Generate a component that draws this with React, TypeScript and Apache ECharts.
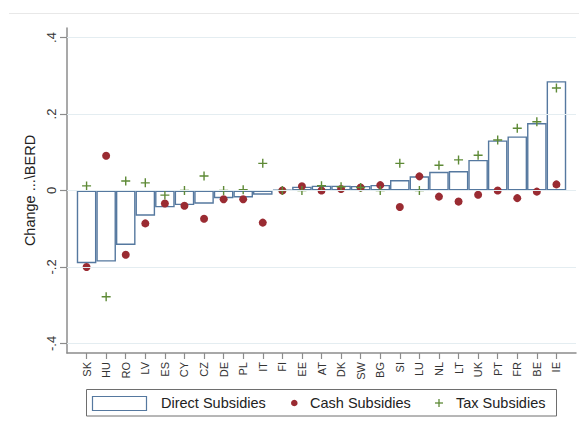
import React, { useEffect, useRef } from "react";
import * as echarts from "echarts";

// Countries ordered by the change in direct subsidies
const countries = [
  "SK", "HU", "RO", "LV", "ES", "CY", "CZ", "DE", "PL", "IT", "FI", "EE", "AT",
  "DK", "SW", "BG", "SI", "LU", "NL", "LT", "UK", "PT", "FR", "BE", "IE",
];

const directSubsidies = [
  -0.19, -0.186, -0.1425, -0.066, -0.044, -0.038, -0.0345, -0.02, -0.018, -0.011,
  0.002, 0.01, 0.0125, 0.0125, 0.012, 0.0145, 0.0275, 0.037, 0.049, 0.051, 0.08,
  0.131, 0.1415, 0.1765, 0.286,
];

const cashSubsidies = [
  -0.2, 0.091, -0.168, -0.086, -0.034, -0.04, -0.074, -0.023, -0.023, -0.084, 0,
  0.011, 0, 0.004, 0.008, 0.014, -0.043, 0.037, -0.016, -0.029, -0.011, 0, -0.02,
  -0.003, 0.016,
];

const taxSubsidies = [
  0.012, -0.278, 0.025, 0.02, -0.012, 0, 0.038, 0, 0.002, 0.071, 0, 0, 0.0125,
  0.01, 0.008, 0, 0.071, 0, 0.066, 0.08, 0.092, 0.132, 0.163, 0.18, 0.268,
];

const yTicks = [-0.4, -0.2, 0, 0.2, 0.4];

const FONT = "'Liberation Sans', Arial, Helvetica, sans-serif";
const BAR_LINE = "#55789f";
const CASH = "#9a2b32";
const TAX = "#5e8a36";
const AXIS = "#8c8c8c";
const GRID = "#e4edf1";

// Plus-shaped marker for tax subsidies
const PLUS = "path://M3.8,0H5.2V9H3.8Z M0,3.8H9V5.2H0Z";

// Stata-style tick labels: .4, .2, 0, -.2, -.4
const fmtTick = (v: number) => {
  if (Math.abs(v) < 1e-9) return "0";
  const s = Math.abs(v).toFixed(1).replace(/^0/, "");
  return (v < 0 ? "-" : "") + s;
};

// Empty slots at both ends leave room between the axes and the first/last bar
const pad = <T,>(arr: T[]) => [null, ...arr, null];

export default function App() {
  const ref = useRef<HTMLDivElement>(null);

  useEffect(() => {
    if (!ref.current) return;
    const chart = echarts.init(ref.current, null, { renderer: "svg" });
    const last = countries.length + 1;
    const inner = (i: number) => i > 0 && i < last;

    chart.setOption({
      animation: false,
      backgroundColor: "#ffffff",
      textStyle: { fontFamily: FONT },
      grid: { left: 67, top: 28, width: 509, height: 325, containLabel: false },
      xAxis: {
        type: "category",
        boundaryGap: false,
        data: ["", ...countries, ""],
        axisLine: { onZero: false, lineStyle: { color: AXIS, width: 1.5 } },
        axisTick: {
          interval: (i: number) => inner(i),
          length: 6,
          lineStyle: { color: AXIS, width: 1.2 },
        },
        axisLabel: {
          interval: (i: number) => inner(i),
          rotate: 90,
          margin: 9,
          fontSize: 11,
          color: "#333",
          fontFamily: FONT,
        },
        splitLine: { show: false },
      },
      yAxis: {
        type: "value",
        min: -0.425,
        max: 0.425,
        name: "Change ...\\BERD",
        nameLocation: "middle",
        nameRotate: 90,
        nameGap: 24,
        nameTextStyle: { fontSize: 14.5, color: "#222", fontFamily: FONT },
        axisLine: { show: true, lineStyle: { color: AXIS, width: 1.5 } },
        axisTick: {
          show: true,
          customValues: yTicks,
          length: 7,
          lineStyle: { color: AXIS, width: 1.2 },
        },
        axisLabel: {
          customValues: yTicks,
          formatter: fmtTick,
          rotate: 90,
          margin: 9,
          fontSize: 13,
          color: "#333",
          fontFamily: FONT,
        },
        splitLine: { show: false },
      },
      series: [
        {
          name: "grid",
          type: "scatter",
          z: 1,
          silent: true,
          symbolSize: 0,
          data: [],
          markLine: {
            silent: true,
            symbol: "none",
            label: { show: false },
            lineStyle: { color: GRID, width: 1.2, type: "solid" },
            data: yTicks.map((v) => ({ yAxis: v })),
          },
        },
        {
          name: "Direct Subsidies",
          type: "bar",
          z: 2,
          barWidth: "100%",
          data: pad(directSubsidies),
          itemStyle: { color: "#ffffff", borderColor: BAR_LINE, borderWidth: 1.4 },
        },
        {
          name: "Cash Subsidies",
          type: "scatter",
          z: 3,
          symbol: "circle",
          symbolSize: 8,
          data: pad(cashSubsidies),
          itemStyle: { color: CASH, opacity: 1 },
        },
        {
          name: "Tax Subsidies",
          type: "scatter",
          z: 4,
          symbol: PLUS,
          symbolSize: 9,
          data: pad(taxSubsidies),
          itemStyle: { color: TAX, opacity: 1 },
        },
      ],
      graphic: [
        // faint frame line above the plot
        {
          type: "line",
          shape: { x1: 9, y1: 13.5, x2: 579, y2: 13.5 },
          style: { stroke: "#e8e8e8", lineWidth: 1 },
          silent: true,
        },
        // legend box
        {
          type: "rect",
          shape: { x: 86.5, y: 389.5, width: 470, height: 26.5 },
          style: { fill: "#ffffff", stroke: "#6e6e6e", lineWidth: 1 },
          silent: true,
        },
        {
          type: "rect",
          shape: { x: 92.5, y: 396.5, width: 54, height: 14 },
          style: { fill: "#ffffff", stroke: BAR_LINE, lineWidth: 1.2 },
          silent: true,
        },
        {
          type: "text",
          x: 161,
          y: 403,
          style: {
            text: "Direct Subsidies",
            font: `14.5px ${FONT}`,
            fill: "#222",
            verticalAlign: "middle",
          },
          silent: true,
        },
        {
          type: "circle",
          shape: { cx: 294.3, cy: 403, r: 3.3 },
          style: { fill: CASH },
          silent: true,
        },
        {
          type: "text",
          x: 310,
          y: 403,
          style: {
            text: "Cash Subsidies",
            font: `14.5px ${FONT}`,
            fill: "#222",
            verticalAlign: "middle",
          },
          silent: true,
        },
        {
          type: "line",
          shape: { x1: 435, y1: 403, x2: 443, y2: 403 },
          style: { stroke: TAX, lineWidth: 1.3 },
          silent: true,
        },
        {
          type: "line",
          shape: { x1: 439, y1: 399, x2: 439, y2: 407 },
          style: { stroke: TAX, lineWidth: 1.3 },
          silent: true,
        },
        {
          type: "text",
          x: 456,
          y: 403,
          style: {
            text: "Tax Subsidies",
            font: `14.5px ${FONT}`,
            fill: "#222",
            verticalAlign: "middle",
          },
          silent: true,
        },
      ],
    });

    return () => chart.dispose();
  }, []);

  return (
    <div
      ref={ref}
      style={{ position: "absolute", left: 0, top: 0, width: 579, height: 425 }}
    />
  );
}
